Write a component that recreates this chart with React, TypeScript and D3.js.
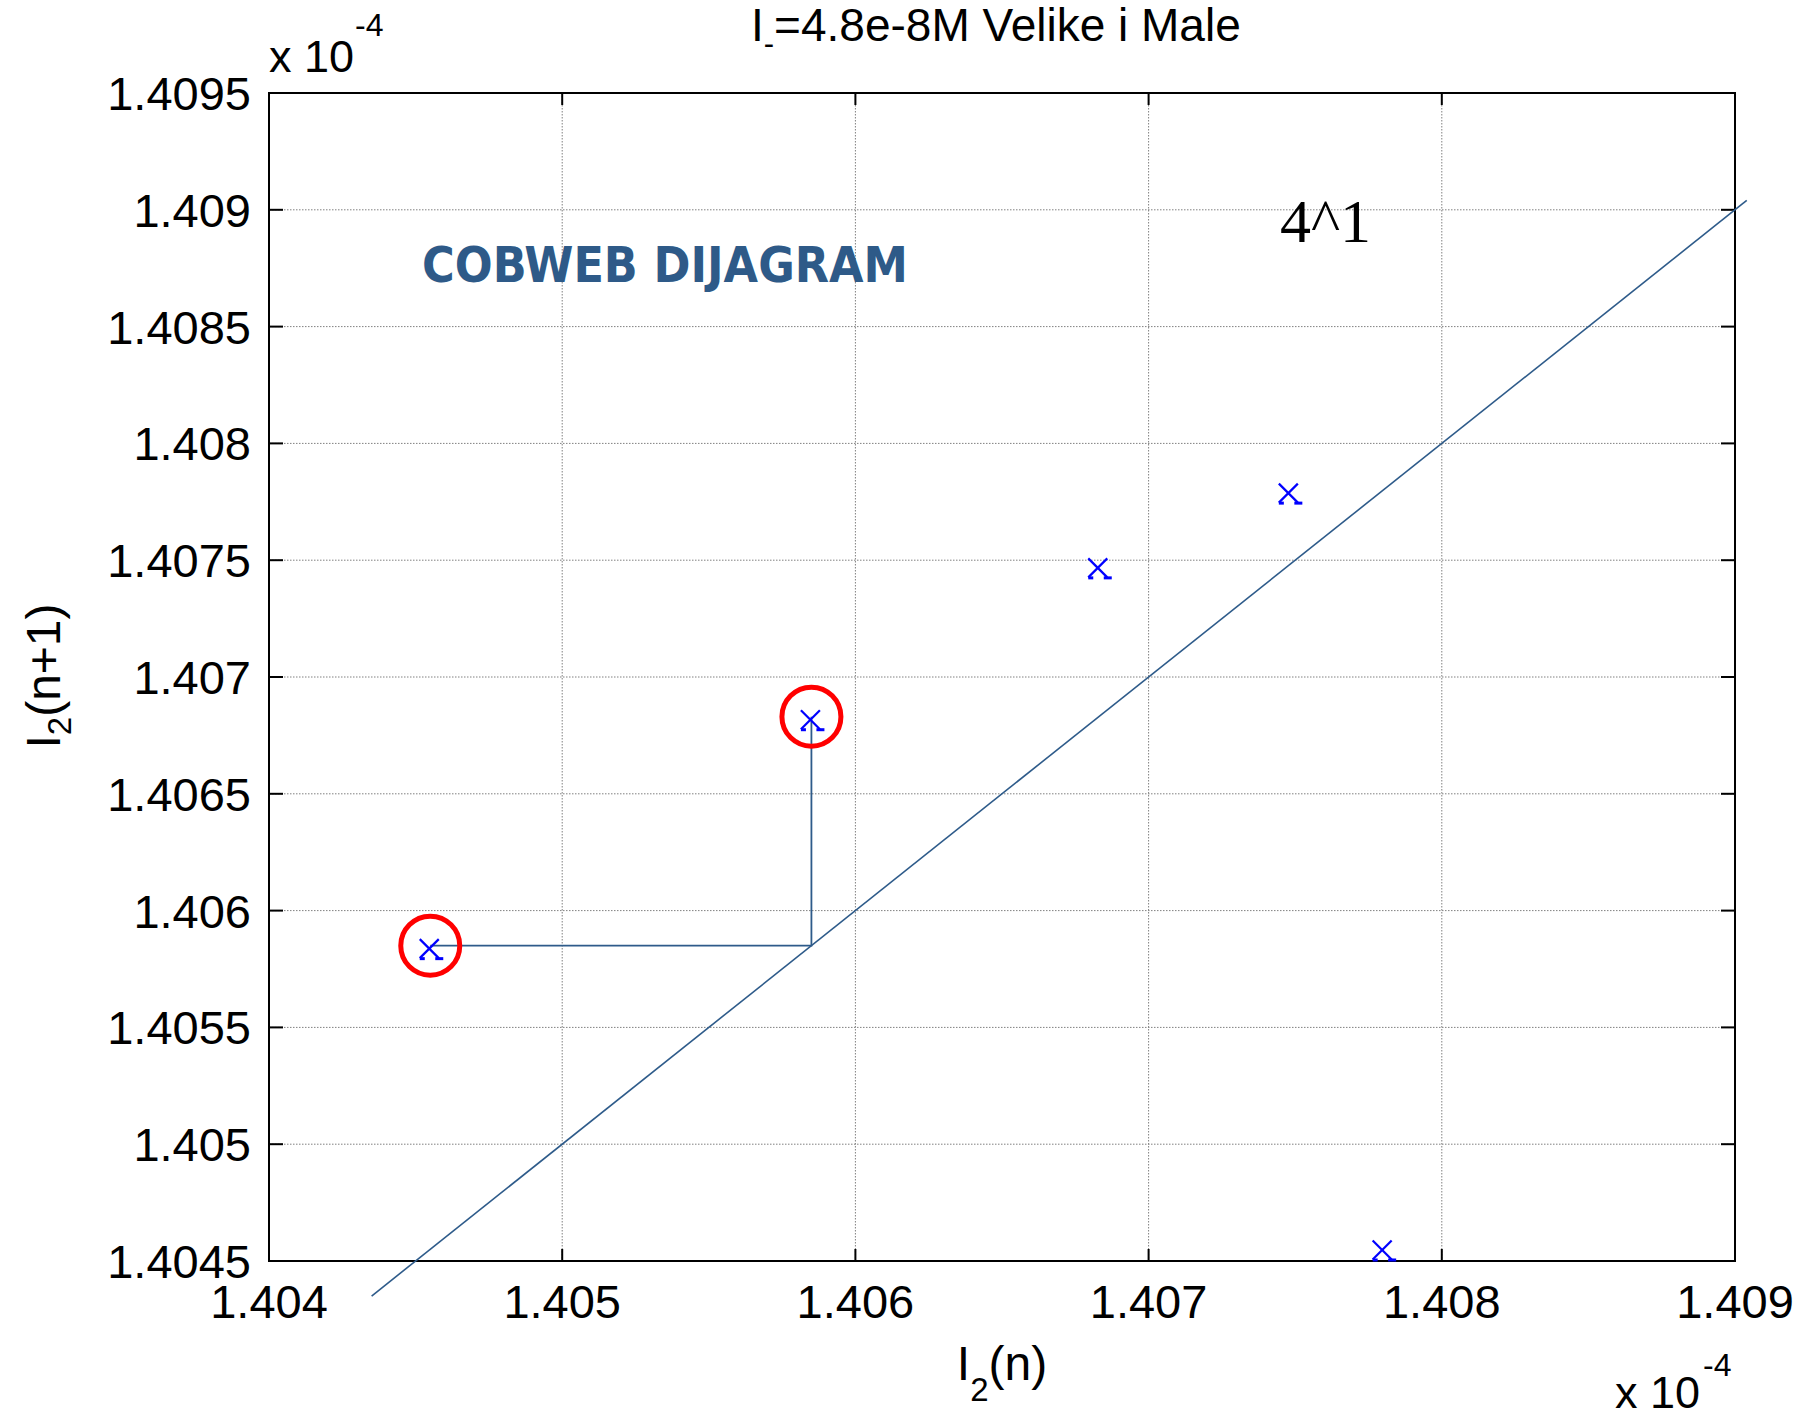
import * as d3 from "d3";

// values are in units of 1e-4 (axis multiplier "x 10^-4")
const xTicks = [1.404, 1.405, 1.406, 1.407, 1.408, 1.409];
const yTicks = [1.4045, 1.405, 1.4055, 1.406, 1.4065, 1.407, 1.4075, 1.408, 1.4085, 1.409, 1.4095];
const xTickLabels = ["1.404", "1.405", "1.406", "1.407", "1.408", "1.409"];
const yTickLabels = ["1.4045", "1.405", "1.4055", "1.406", "1.4065", "1.407", "1.4075", "1.408", "1.4085", "1.409", "1.4095"];

// iterates I2(n) -> I2(n+1)
const pointX = [1.40455, 1.40585, 1.40683, 1.40748, 1.4078];
const pointY = [1.40585, 1.40683, 1.40748, 1.4078, 1.40456];
const circled = [0, 1];

// identity line y = x
const diagX = [1.40435, 1.40904];

// cobweb step
const cobX = [1.40455, 1.40585, 1.40585];
const cobY = [1.40585, 1.40585, 1.40683];

const W = 1812;
const H = 1421;
const left = 269, right = 1735, top = 93, bottom = 1261;
const font = "'Liberation Sans', Arial, sans-serif";
const lineColor = "#2E5B8A";

export default function App() {
  const x = d3.scaleLinear().domain([1.404, 1.409]).range([left, right]);
  const y = d3.scaleLinear().domain([1.4045, 1.4095]).range([bottom, top]);

  const line = d3.line<[number, number]>().x((d) => x(d[0])).y((d) => y(d[1]));
  const diag = line(diagX.map((v) => [v, v] as [number, number])) || "";
  const cob = line(cobX.map((v, i) => [v, cobY[i]] as [number, number])) || "";

  return (
    <svg width={W} height={H} style={{ position: "absolute", left: 0, top: 0, background: "#fff" }}>
      <rect x={0} y={0} width={W} height={H} fill="#fff" />

      {/* grid */}
      <g stroke="#808080" strokeWidth={1} strokeDasharray="1.5,1.5">
        {xTicks.slice(1, -1).map((t) => (
          <line key={"gx" + t} x1={x(t)} x2={x(t)} y1={top} y2={bottom} />
        ))}
        {yTicks.slice(1, -1).map((t) => (
          <line key={"gy" + t} x1={left} x2={right} y1={y(t)} y2={y(t)} />
        ))}
      </g>

      {/* ticks, inside, on all four sides */}
      <g stroke="#000" strokeWidth={2}>
        {xTicks.map((t) => (
          <g key={"tx" + t}>
            <line x1={x(t)} x2={x(t)} y1={bottom} y2={bottom - 12} />
            <line x1={x(t)} x2={x(t)} y1={top} y2={top + 12} />
          </g>
        ))}
        {yTicks.map((t) => (
          <g key={"ty" + t}>
            <line x1={left} x2={left + 14} y1={y(t)} y2={y(t)} />
            <line x1={right} x2={right - 14} y1={y(t)} y2={y(t)} />
          </g>
        ))}
      </g>

      {/* box */}
      <rect x={left} y={top} width={right - left} height={bottom - top} fill="none" stroke="#000" strokeWidth={2} />

      {/* tick labels */}
      <g fontFamily={font} fontSize={47} fill="#000">
        {xTicks.map((t, i) => (
          <text key={"lx" + t} x={x(t)} y={1318} textAnchor="middle">{xTickLabels[i]}</text>
        ))}
        {yTicks.map((t, i) => (
          <text key={"ly" + t} x={251} y={y(t) + 17} textAnchor="end">{yTickLabels[i]}</text>
        ))}
      </g>

      {/* exponent labels */}
      <g fontFamily={font} fill="#000">
        <text x={269} y={72} fontSize={45}>x 10</text>
        <text x={355} y={36} fontSize={32}>-4</text>
        <text x={1615} y={1408} fontSize={45}>x 10</text>
        <text x={1703} y={1376} fontSize={32}>-4</text>
      </g>

      {/* identity line and cobweb */}
      <path d={diag} fill="none" stroke={lineColor} strokeWidth={1.6} />
      <path d={cob} fill="none" stroke={lineColor} strokeWidth={1.8} />

      {/* markers */}
      <g fill="none" stroke="#0000ff" strokeWidth={2.2}>
        {pointX.map((px, i) => {
          const cx = x(px) - 1;
          const cy = y(pointY[i]) + 3;
          return (
            <g key={"m" + i} transform={`translate(${cx},${cy})`}>
              <line x1={-9.5} y1={-9.5} x2={9.5} y2={9.5} />
              <line x1={-9.5} y1={9.5} x2={9.5} y2={-9.5} />
              <rect x={-9.5} y={8.5} width={5} height={3} fill="#0000ff" stroke="none" />
              <rect x={6} y={8.5} width={8} height={3} fill="#0000ff" stroke="none" />
            </g>
          );
        })}
      </g>

      {/* red circles */}
      <g fill="none" stroke="#ff0000" strokeWidth={5}>
        {circled.map((i) => (
          <circle key={"c" + i} cx={x(pointX[i])} cy={y(pointY[i])} r={29.5} />
        ))}
      </g>

      {/* annotations */}
      <text x={422} y={282} fontFamily="'DejaVu Sans', Verdana, sans-serif" fontWeight="bold" fontSize={50}
        fill="#2E5A88" textLength={486} lengthAdjust="spacingAndGlyphs">COBWEB DIJAGRAM</text>
      <text x={1280} y={242} fontFamily="'Liberation Serif', 'Times New Roman', serif" fontSize={62} fill="#000">4^1</text>

      {/* title */}
      <text x={751} y={41} fontFamily={font} fontSize={46} fill="#000">
        <tspan>I</tspan>
        <tspan fontSize={31} dy={13}>-</tspan>
        <tspan dy={-13}>=4.8e-8M Velike i Male</tspan>
      </text>

      {/* axis labels */}
      <text x={1002} y={1380} fontFamily={font} fontSize={48} fill="#000" textAnchor="middle">
        <tspan>I</tspan>
        <tspan fontSize={33} dy={21}>2</tspan>
        <tspan dy={-21}>(n)</tspan>
      </text>
      <text transform="translate(60,676) rotate(-90)" fontFamily={font} fontSize={48} fill="#000" textAnchor="middle">
        <tspan>I</tspan>
        <tspan fontSize={33} dy={11}>2</tspan>
        <tspan dy={-11}>(n+1)</tspan>
      </text>
    </svg>
  );
}
